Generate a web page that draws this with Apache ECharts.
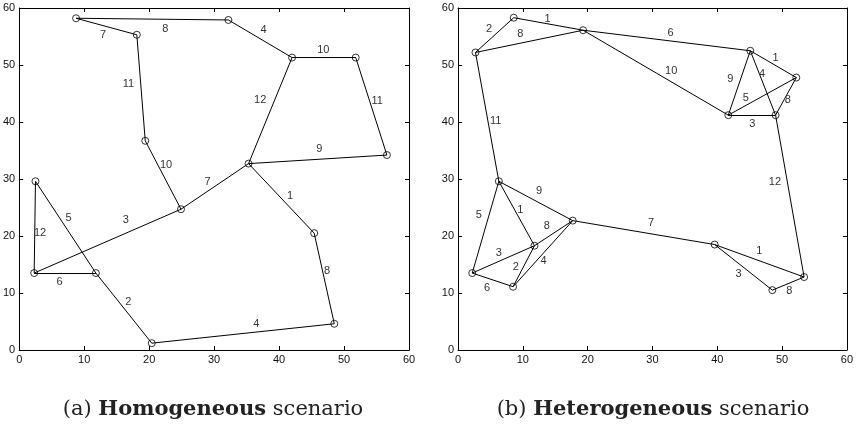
<!DOCTYPE html>
<html>
<head>
<meta charset="utf-8">
<script src="https://cdn.jsdelivr.net/npm/echarts@6/dist/echarts.min.js"></script>
<style>html,body{margin:0;padding:0;background:#fff;}#c{width:856px;height:432px;}</style>
</head>
<body>
<div id="c"></div>
<script>
// Tick values
var ticks = [0, 10, 20, 30, 40, 50, 60];

// Panel (a): node coordinates [x, y]
var nodesA = [
  [8.75, 58.2], [32.2, 57.9], [18.1, 55.3], [42.0, 51.3], [51.8, 51.3],
  [19.4, 36.7], [56.6, 34.2], [35.3, 32.7], [2.5, 29.6], [24.9, 24.7],
  [45.4, 20.5], [2.3, 13.5], [11.8, 13.5], [48.5, 4.6], [20.4, 1.2]
];
// Panel (a): edges [from, to]
var edgesA = [
  [0, 1], [0, 2], [2, 5], [5, 9], [9, 7], [9, 11], [1, 3], [3, 4], [4, 6],
  [3, 7], [7, 6], [7, 10], [10, 13], [13, 14], [14, 12], [12, 8], [11, 12], [11, 8]
];
// Panel (a): edge labels and their positions [x, y]
var edgeLabelsA = ['8', '7', '11', '10', '7', '3', '4', '10', '11', '12', '9', '1', '8', '4', '2', '5', '6', '12'];
var labelPosA = [
  [22.5, 56.4], [12.9, 55.3], [16.8, 46.6], [22.6, 32.5], [29.0, 29.4], [16.4, 22.8],
  [37.6, 56.1], [46.8, 52.6], [55.1, 43.7], [37.1, 43.9], [46.2, 35.3], [41.7, 27.0],
  [47.4, 13.9], [36.5, 4.6], [16.8, 8.4], [7.6, 23.1], [6.2, 11.9], [3.2, 20.5]
];

// Panel (b): node coordinates [x, y]
var nodesB = [
  [8.6, 58.3], [2.7, 52.2], [19.3, 56.1], [45.1, 52.5], [52.2, 47.8],
  [41.7, 41.2], [49.0, 41.2], [6.3, 29.6], [17.7, 22.7], [11.8, 18.3],
  [2.2, 13.5], [8.5, 11.1], [39.6, 18.5], [53.4, 12.8], [48.5, 10.5]
];
// Panel (b): edges [from, to]
var edgesB = [
  [1, 0], [0, 2], [1, 2], [2, 3], [2, 5], [3, 4], [3, 5], [3, 6], [5, 4], [4, 6],
  [5, 6], [6, 13], [1, 7], [7, 8], [7, 9], [7, 10], [10, 9], [10, 11], [11, 9],
  [11, 8], [9, 8], [8, 12], [12, 13], [12, 14], [14, 13]
];
var edgeLabelsB = ['2', '1', '8', '6', '10', '1', '9', '4', '5', '8', '3', '12', '11', '9', '1', '5', '3', '6', '2', '4', '8', '7', '1', '3', '8'];
var labelPosB = [
  [4.8, 56.4], [13.8, 58.1], [9.6, 55.4], [32.8, 55.7], [32.9, 48.9], [49.0, 51.3],
  [42.0, 47.5], [46.9, 48.4], [44.4, 44.3], [50.9, 43.9], [45.4, 39.6], [48.9, 29.5],
  [5.8, 40.2], [12.5, 27.9], [9.6, 24.6], [3.2, 23.7], [6.3, 17.0], [4.5, 10.8],
  [8.9, 14.6], [13.2, 15.6], [13.7, 21.8], [29.8, 22.3], [46.5, 17.4], [43.3, 13.3],
  [51.1, 10.4]
];

var captionA = ['(a) ', 'Homogeneous', ' scenario'];
var captionB = ['(b) ', 'Heterogeneous', ' scenario'];

var tickFont = {color: '#111', fontSize: 11, fontFamily: 'Liberation Sans, Arial, sans-serif'};

function mkAxis(gi, pos, showLabel) {
  return {
    type: 'value', gridIndex: gi, position: pos, min: 0, max: 60, interval: 10,
    axisLine: {show: true, onZero: false, lineStyle: {color: '#000', width: 1}},
    axisTick: {show: true, inside: true, length: 4, lineStyle: {color: '#000'}},
    axisLabel: Object.assign({show: showLabel, margin: 4}, tickFont),
    splitLine: {show: false}
  };
}

function panelSeries(nodes, edges, labels, labelPos, axIdx) {
  return [
    {
      type: 'lines', coordinateSystem: 'cartesian2d', xAxisIndex: axIdx, yAxisIndex: axIdx,
      polyline: false, silent: true,
      lineStyle: {color: '#000', width: 1, opacity: 1},
      data: edges.map(function (e) { return {coords: [nodes[e[0]], nodes[e[1]]]}; }),
      z: 2
    },
    {
      type: 'scatter', xAxisIndex: axIdx, yAxisIndex: axIdx,
      symbol: 'circle', symbolSize: 7, silent: true,
      itemStyle: {color: 'rgba(255,255,255,0)', borderColor: '#000', borderWidth: 1},
      data: nodes, z: 3
    },
    {
      type: 'custom', xAxisIndex: axIdx, yAxisIndex: axIdx, silent: true,
      encode: {x: 0, y: 1},
      dimensions: ['x', 'y', {name: 'lab', type: 'ordinal'}],
      data: labelPos.map(function (p, i) { return [p[0], p[1], labels[i]]; }),
      renderItem: function (params, api) {
        var pt = api.coord([api.value(0), api.value(1)]);
        var idx = params.dataIndex;
        return {
          type: 'text', x: pt[0], y: pt[1],
          style: {text: labels[idx], align: 'center', verticalAlign: 'middle',
                  fill: '#333', fontSize: 11, fontFamily: 'Liberation Sans, Arial, sans-serif'}
        };
      },
      z: 4
    }
  ];
}

function caption(parts, cx) {
  return {
    type: 'text', x: cx, y: 410,
    style: {
      text: '{n|' + parts[0] + '}{b|' + parts[1] + '}{n|' + parts[2] + '}',
      align: 'center', verticalAlign: 'middle',
      rich: {
        n: {fontFamily: 'DejaVu Serif, serif', fontSize: 21, fill: '#222', fontWeight: 'normal'},
        b: {fontFamily: 'DejaVu Serif, serif', fontSize: 21, fill: '#222', fontWeight: 'bold'}
      }
    }
  };
}

var chart = echarts.init(document.getElementById('c'), null, {renderer: 'canvas'});
chart.setOption({
  animation: false,
  backgroundColor: '#fff',
  grid: [
    {left: 18, right: 447, top: 8, bottom: 82},
    {left: 458, right: 8, top: 8, bottom: 82}
  ],
  xAxis: [mkAxis(0, 'bottom', true), mkAxis(0, 'top', false), mkAxis(1, 'bottom', true), mkAxis(1, 'top', false)],
  yAxis: [mkAxis(0, 'left', true), mkAxis(0, 'right', false), mkAxis(1, 'left', true), mkAxis(1, 'right', false)],
  series: panelSeries(nodesA, edgesA, edgeLabelsA, labelPosA, 0)
    .concat(panelSeries(nodesB, edgesB, edgeLabelsB, labelPosB, 2)),
  graphic: [caption(captionA, 213), caption(captionB, 653)]
});
</script>
</body>
</html>
